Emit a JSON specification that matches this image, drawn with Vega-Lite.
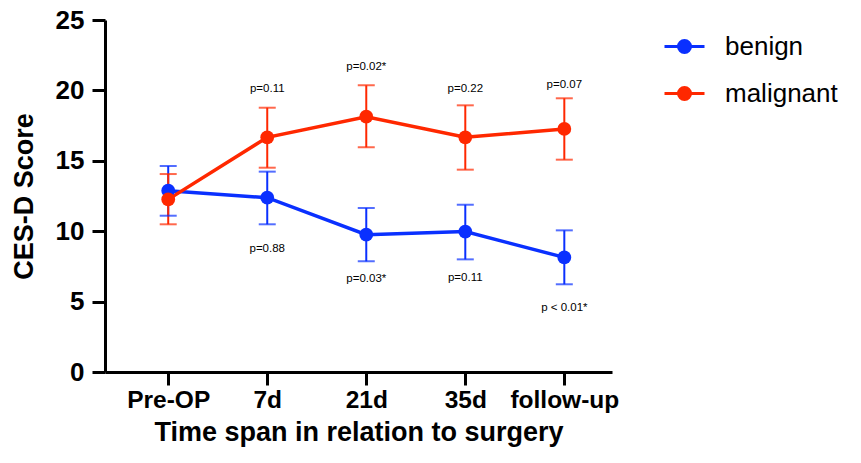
{
  "$schema": "https://vega.github.io/schema/vega-lite/v6.json",
  "autosize": {"type": "none"},
  "width": 507,
  "height": 352,
  "padding": {"left": 105, "top": 20, "right": 249, "bottom": 91},
  "background": "white",
  "config": {
    "view": {"stroke": null},
    "font": "Liberation Sans",
    "axis": {"grid": false, "domainColor": "black", "domainWidth": 3, "tickColor": "black", "tickWidth": 3, "tickSize": 13, "labelColor": "black", "titleColor": "black", "labelFont": "Liberation Sans", "titleFont": "Liberation Sans", "labelFontWeight": "bold", "titleFontWeight": "bold"}
  },
  "datasets": {
    "scores": [
      {"time": "Pre-OP", "group": "benign", "mean": 12.88, "lo": 11.1, "hi": 14.63},
      {"time": "7d", "group": "benign", "mean": 12.38, "lo": 10.49, "hi": 14.23},
      {"time": "21d", "group": "benign", "mean": 9.75, "lo": 7.86, "hi": 11.65},
      {"time": "35d", "group": "benign", "mean": 9.97, "lo": 8.0, "hi": 11.88},
      {"time": "follow-up", "group": "benign", "mean": 8.14, "lo": 6.23, "hi": 10.06},
      {"time": "Pre-OP", "group": "malignant", "mean": 12.26, "lo": 10.49, "hi": 14.06},
      {"time": "7d", "group": "malignant", "mean": 16.67, "lo": 14.51, "hi": 18.77},
      {"time": "21d", "group": "malignant", "mean": 18.13, "lo": 15.96, "hi": 20.36},
      {"time": "35d", "group": "malignant", "mean": 16.67, "lo": 14.37, "hi": 18.94},
      {"time": "follow-up", "group": "malignant", "mean": 17.26, "lo": 15.08, "hi": 19.44}
    ],
    "pvals": [
      {"time": "7d", "label": "p=0.11", "y": 20.08},
      {"time": "21d", "label": "p=0.02*", "y": 21.68},
      {"time": "35d", "label": "p=0.22", "y": 20.08},
      {"time": "follow-up", "label": "p=0.07", "y": 20.36},
      {"time": "7d", "label": "p=0.88", "y": 8.74},
      {"time": "21d", "label": "p=0.03*", "y": 6.6},
      {"time": "35d", "label": "p=0.11", "y": 6.65},
      {"time": "follow-up", "label": "p < 0.01*", "y": 4.52}
    ]
  },
  "encoding": {
    "x": {
      "field": "time", "type": "ordinal",
      "sort": ["Pre-OP", "7d", "21d", "35d", "follow-up"],
      "scale": {"type": "point", "padding": 0.56, "align": 0.57},
      "axis": {"title": "Time span in relation to surgery", "labelAngle": 0, "labelFontSize": 24.5, "titleFontSize": 27, "labelPadding": 3, "titlePadding": 8}
    }
  },
  "layer": [
    {
      "data": {"name": "scores"},
      "mark": {"type": "rule", "strokeWidth": 2},
      "encoding": {
        "y": {"field": "lo", "type": "quantitative"},
        "y2": {"field": "hi"},
        "color": {"field": "group", "type": "nominal"}
      }
    },
    {
      "data": {"name": "scores"},
      "mark": {"type": "tick", "thickness": 2, "size": 17},
      "encoding": {
        "y": {"field": "lo", "type": "quantitative"},
        "color": {"field": "group", "type": "nominal"}
      }
    },
    {
      "data": {"name": "scores"},
      "mark": {"type": "tick", "thickness": 2, "size": 17},
      "encoding": {
        "y": {"field": "hi", "type": "quantitative"},
        "color": {"field": "group", "type": "nominal"}
      }
    },
    {
      "data": {"name": "scores"},
      "mark": {"type": "line", "strokeWidth": 3.5},
      "encoding": {
        "y": {"field": "mean", "type": "quantitative"},
        "color": {"field": "group", "type": "nominal"}
      }
    },
    {
      "data": {"name": "scores"},
      "mark": {"type": "point", "filled": true, "opacity": 1, "size": 190},
      "encoding": {
        "y": {
          "field": "mean", "type": "quantitative",
          "scale": {"domain": [0, 25], "nice": false},
          "axis": {"title": "CES-D Score", "values": [0, 5, 10, 15, 20, 25], "labelFontSize": 26, "titleFontSize": 27, "labelPadding": 8, "titlePadding": 17}
        },
        "color": {
          "field": "group", "type": "nominal",
          "scale": {"domain": ["benign", "malignant"], "range": ["#0a30ff", "#ff2800"]},
          "legend": {
            "title": null, "orient": "none", "legendX": 558, "legendY": 5, "padding": 0,
            "symbolType": "M-1,0H1M-0.3,0A0.3,0.3 0 1 1 0.3,0A0.3,0.3 0 1 1 -0.3,0Z",
            "symbolSize": 1600, "symbolStrokeWidth": 3, "symbolOpacity": 1,
            "labelFontSize": 26, "labelFont": "Liberation Sans", "labelColor": "black", "labelOffset": 19, "rowPadding": 12,
            "encode": {
              "symbols": {
                "update": {
                  "stroke": {"scale": "color", "field": "value"},
                  "fill": {"scale": "color", "field": "value"},
                  "opacity": {"value": 1},
                  "fillOpacity": {"value": 1},
                  "strokeOpacity": {"value": 1},
                  "strokeWidth": {"value": 3}
                }
              }
            }
          }
        }
      }
    },
    {
      "data": {"name": "pvals"},
      "mark": {"type": "text", "fontSize": 11.5, "font": "Liberation Sans", "color": "black"},
      "encoding": {
        "y": {"field": "y", "type": "quantitative"},
        "text": {"field": "label"}
      }
    }
  ]
}
